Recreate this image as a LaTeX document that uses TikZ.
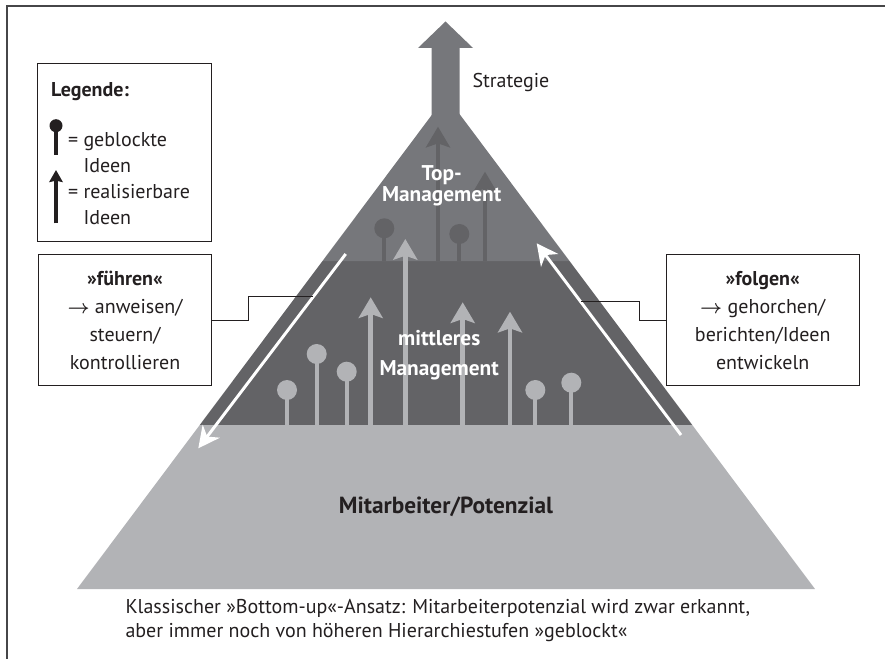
\documentclass[tikz,border=0pt]{standalone}
\usepackage{fontspec}
\setmainfont{PT Sans}
\usepackage{amsmath, amssymb, bm}
\usetikzlibrary{arrows.meta, calc}
\tikzset{every picture/.style={line width=0.75pt}}
\definecolor{topgray}{RGB}{118,119,123}
\definecolor{midgray}{RGB}{99,99,102}
\definecolor{lowgray}{RGB}{178,179,182}
\definecolor{framegray}{RGB}{70,70,72}
\definecolor{inkblack}{RGB}{35,31,32}
\tikzset{
  txt/.style={inner sep=0pt, text=inkblack, font=\fontsize{15}{19.5}\selectfont},
  labelbox/.style={draw=inkblack, line width=0.8pt, inner sep=0pt, align=center, text=inkblack, font=\fontsize{15}{21}\selectfont},
  goidea/.style={line width=3.6pt, -{Stealth[length=15.5pt, width=18pt, inset=3pt]}},
  stopstem/.style={line width=2.8pt},
  flowarrow/.style={white, line width=2.2pt, -{Stealth[length=16pt, width=16pt, inset=5pt]}},
  leader/.style={draw=inkblack, line width=0.8pt}
}

\begin{document}
\begin{tikzpicture}[x=0.75pt,y=0.75pt,yscale=-1,xscale=1]
\useasboundingbox (0,0) rectangle (885,659);

%Frame
\draw [framegray, line width=1.5pt] (6.5,659) -- (6.5,6.5) -- (885,6.5) ;

%Pyramid corners
\coordinate (apex) at (446,96);
\coordinate (bl) at (77,589);
\coordinate (br) at (815,589);

%Shape: bottom band
\fill [lowgray] (bl) -- (br) -- ($(apex)!0.6673!(br)$) -- ($(apex)!0.6673!(bl)$) -- cycle ;
%Shape: middle band
\fill [midgray] ($(apex)!0.6673!(bl)$) -- ($(apex)!0.6673!(br)$) -- ($(apex)!0.3347!(br)$) -- ($(apex)!0.3347!(bl)$) -- cycle ;
%Shape: top band
\fill [topgray] ($(apex)!0.3347!(bl)$) -- ($(apex)!0.3347!(br)$) -- (apex) -- cycle ;
%Shape: strategy arrow
\fill [topgray] (431.5,125) -- (431.5,48) -- (418,48) -- (445.5,21.5) -- (473,48) -- (459.5,48) -- (459.5,125) -- cycle ;

%Blocked ideas, top band
\draw [midgray, stopstem] (384.3,228) -- (384.3,261) ;
\fill [midgray] (384.3,228.3) circle [radius=10] ;
\draw [midgray, stopstem] (459.3,234) -- (459.3,261) ;
\fill [midgray] (459.3,234) circle [radius=10] ;
%Realisable ideas, top band
\draw [midgray, goidea] (438,261) -- (438,126.7) ;
\draw [midgray, goidea] (485,261) -- (485,171.7) ;

%Blocked ideas, middle band
\draw [lowgray, stopstem] (287,390) -- (287,425) ;
\fill [lowgray] (287,390) circle [radius=10] ;
\draw [lowgray, stopstem] (316.7,354) -- (316.7,425) ;
\fill [lowgray] (316.7,354) circle [radius=10] ;
\draw [lowgray, stopstem] (346.7,371.7) -- (346.7,425) ;
\fill [lowgray] (346.7,371.7) circle [radius=10] ;
\draw [lowgray, stopstem] (535.3,390) -- (535.3,425) ;
\fill [lowgray] (535.3,390) circle [radius=10] ;
\draw [lowgray, stopstem] (571.3,382.7) -- (571.3,425) ;
\fill [lowgray] (571.3,382.7) circle [radius=10] ;
%Realisable ideas, middle band
\draw [lowgray, goidea] (370.7,425) -- (370.7,297.3) ;
\draw [lowgray, goidea] (405.3,425) -- (405.3,239) ;
\draw [lowgray, goidea] (462.7,425) -- (462.7,302.3) ;
\draw [lowgray, goidea] (510,425) -- (510,311.7) ;

%Flow arrows: lead down, follow up
\coordinate (leadtop) at (345.7,254);
\coordinate (leadend) at (198.3,448.3);
\coordinate (followstart) at (681,435);
\coordinate (followtop) at (536.7,243.3);
\draw [flowarrow] (leadtop) -- (leadend) ;
\draw [flowarrow] (followstart) -- (followtop) ;
\coordinate (lead) at ($(leadtop)!0.22!(leadend)$);
\coordinate (follow) at ($(followstart)!0.695!(followtop)$);

% Text Node
\node (strategy) [txt, anchor=base west] at (472,88) {Strategie};
% Text Node
\node (topmgmt) [txt, align=center, text=white, font=\fontsize{16}{16}\selectfont\bfseries] at (441.7,186) {Top-\\Management};
% Text Node
\node (midmgmt) [txt, align=center, text=white, font=\fontsize{16}{22.5}\selectfont\bfseries] at (439.2,355) {mittleres\\Management};
% Text Node
\node (staff) [txt, font=\fontsize{17.5}{18}\selectfont\bfseries] at (446,507) {Mitarbeiter/Potenzial};

%Legend
\node (legend) [labelbox, minimum width=130.8pt, minimum height=133.8pt] at (124.5,152.5) {};
\node (legtitle) [txt, anchor=base west, font=\fontsize{15}{19.5}\selectfont\bfseries] at (50.7,96.5) {Legende:};
\draw [inkblack, line width=3pt] (56,125.7) -- (56,155) ;
\fill [inkblack] (56,125.7) circle [radius=6.5] ;
\node (eqblocked) [txt, anchor=base west] at (67.5,146.7) {=};
\node (blocked) [txt, anchor=base west] at (83,146.7) {geblockte};
\node (blocked2) [txt, anchor=base west] at (83,172.7) {Ideen};
\draw [inkblack, line width=3pt, -{Stealth[length=9pt, width=10pt, inset=1pt]}] (56,223.3) -- (56,170) ;
\node (eqgo) [txt, anchor=base west] at (67.5,198.3) {=};
\node (go) [txt, anchor=base west] at (83,198.3) {realisierbare};
\node (go2) [txt, anchor=base west] at (83,224.3) {Ideen};

%Boxes
\node (fuehren) [labelbox, minimum width=130pt, minimum height=98pt] at (125,320.3) {\textbf{»führen«}\\$\boldsymbol{\rightarrow}$ anweisen/\\steuern/\\kontrollieren};
\node (folgen) [labelbox, minimum width=145pt, minimum height=98pt] at (762.7,320.3) {\textbf{»folgen«}\\$\boldsymbol{\rightarrow}$ gehorchen/\\berichten/Ideen\\entwickeln};

%Leader lines
\draw [leader] (fuehren.east) -- ++(36.3,0) |- (lead) ;
\draw [leader] (folgen.west) -- ++(-26,0) |- (follow) ;

% Text Node
\node (caption) [txt, anchor=base west] at (125,613) {Klassischer »Bottom-up«-Ansatz: Mitarbeiterpotenzial wird zwar erkannt,};
\node (caption2) [txt, anchor=base west] at (125,637) {aber immer noch von höheren Hierarchiestufen »geblockt«};

\end{tikzpicture}
\end{document}
